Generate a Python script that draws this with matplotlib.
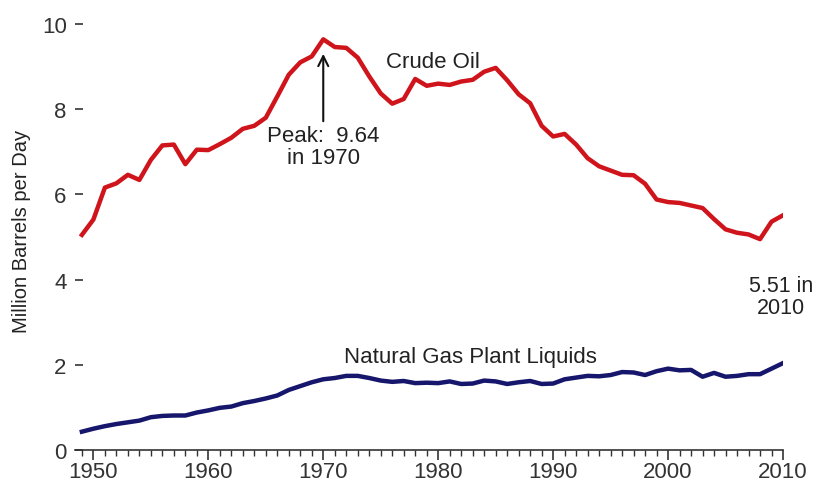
import matplotlib
matplotlib.use("Agg")
import matplotlib.pyplot as plt
from matplotlib.ticker import MultipleLocator

plt.rcParams['font.family'] = ['Liberation Sans', 'DejaVu Sans']

years = list(range(1949, 2011))

# US field production, million barrels per day
crude_oil = [5.05, 5.41, 6.16, 6.26, 6.46, 6.34, 6.81, 7.15, 7.17, 6.71,
             7.05, 7.04, 7.18, 7.33, 7.54, 7.61, 7.80, 8.30, 8.81, 9.10,
             9.24, 9.64, 9.46, 9.44, 9.21, 8.77, 8.37, 8.13, 8.24, 8.71,
             8.55, 8.60, 8.57, 8.65, 8.69, 8.88, 8.97, 8.68, 8.35, 8.14,
             7.61, 7.36, 7.42, 7.17, 6.85, 6.66, 6.56, 6.46, 6.45, 6.25,
             5.88, 5.82, 5.80, 5.74, 5.68, 5.42, 5.18, 5.10, 5.06, 4.95,
             5.36, 5.51]

ngpl = [0.43, 0.50, 0.56, 0.61, 0.65, 0.69, 0.77, 0.80, 0.81, 0.81,
        0.88, 0.93, 0.99, 1.02, 1.10, 1.15, 1.21, 1.28, 1.41, 1.50,
        1.59, 1.66, 1.69, 1.74, 1.74, 1.69, 1.63, 1.60, 1.62, 1.57,
        1.58, 1.57, 1.61, 1.55, 1.56, 1.63, 1.61, 1.55, 1.59, 1.62,
        1.55, 1.56, 1.66, 1.70, 1.74, 1.73, 1.76, 1.83, 1.82, 1.76,
        1.85, 1.91, 1.87, 1.88, 1.72, 1.81, 1.72, 1.74, 1.78, 1.78,
        1.91, 2.04]

yticks = [0, 2, 4, 6, 8, 10]
xticks = [1950, 1960, 1970, 1980, 1990, 2000, 2010]

fig = plt.figure(figsize=(8.17, 4.89), dpi=100)
ax = fig.add_axes([0.0918, 0.0777, 0.8666, 0.8973])

ax.plot(years, crude_oil, color='#cf151b', lw=3.2, solid_joinstyle='round')
ax.plot(years, ngpl, color='#16166c', lw=3.2, solid_joinstyle='round')

ax.set_xlim(1948.4, 2010)
ax.set_ylim(0, 10.3)

for s in ['top', 'right', 'left']:
    ax.spines[s].set_visible(False)
ax.spines['bottom'].set_linewidth(1.2)
ax.spines['bottom'].set_color('#333333')

ax.set_xticks(xticks)
ax.xaxis.set_minor_locator(MultipleLocator(1))
ax.set_yticks(yticks)
ax.tick_params(axis='x', which='major', direction='out', length=7, width=1.2,
               labelsize=16, pad=1, colors='#333333')
ax.tick_params(axis='x', which='minor', direction='out', length=4, width=1.0,
               colors='#333333')
ax.tick_params(axis='y', direction='in', length=6, width=1.2, labelsize=16,
               pad=6, colors='#333333')

ax.set_ylabel('Million Barrels per Day', fontsize=14.5, color='#222222', labelpad=8)

ax.text(1979.5, 9.13, 'Crude Oil', fontsize=16, ha='center', va='center', color='#222222')
ax.text(1982.8, 2.2, 'Natural Gas Plant Liquids', fontsize=16, ha='center',
        va='center', color='#222222')
ax.text(2009.85, 3.6, '5.51 in\n2010', fontsize=15.5, ha='center', va='center',
        color='#222222', linespacing=1.05)

ax.annotate('Peak:  9.64\nin 1970', xy=(1970, 9.3), xytext=(1970, 7.62),
            fontsize=16, ha='center', va='top', color='#222222', linespacing=1.05,
            arrowprops=dict(arrowstyle='->', color='#111111', lw=1.5,
                            mutation_scale=18, shrinkA=1, shrinkB=0))

fig.savefig('out.png', dpi=100)
